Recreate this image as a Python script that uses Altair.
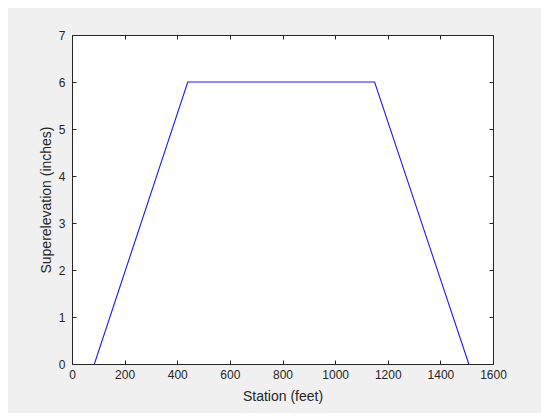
import altair as alt
import pandas as pd

station = [85, 440, 1150, 1508]
superelevation = [0, 6, 6, 0]
x_ticks = [0, 200, 400, 600, 800, 1000, 1200, 1400, 1600]
y_ticks = [0, 1, 2, 3, 4, 5, 6, 7]

df = pd.DataFrame({"station": station, "super": superelevation})

FONT = "Liberation Sans"
INK = "#262626"

xs = alt.Scale(domain=[0, 1600], nice=False, zero=False)
ys = alt.Scale(domain=[0, 7], nice=False, zero=False)

line = alt.Chart(df).mark_line(color="#1a1aff", strokeWidth=1.1, clip=True).encode(
    x=alt.X("station:Q", scale=xs,
            axis=alt.Axis(values=x_ticks, format="d", title="Station (feet)", orient="bottom",
                          domain=False, ticks=True, tickSize=4, offset=-4,
                          tickColor=INK, tickWidth=1,
                          labelPadding=5, labelFontSize=12, labelColor=INK, labelFont=FONT,
                          titleFontSize=14, titleFont=FONT, titleColor=INK, titleFontWeight="normal",
                          titlePadding=9, grid=False, labelFlush=False)),
    y=alt.Y("super:Q", scale=ys,
            axis=alt.Axis(values=y_ticks, format="d", title="Superelevation (inches)", orient="left",
                          domain=False, ticks=True, tickSize=4, offset=-4,
                          tickColor=INK, tickWidth=1,
                          labelPadding=7, labelFontSize=12, labelColor=INK, labelFont=FONT,
                          titleFontSize=14, titleFont=FONT, titleColor=INK, titleFontWeight="normal",
                          titlePadding=5, grid=False, labelFlush=False)),
)

mirror = alt.Chart(df).mark_line(opacity=0).encode(
    x=alt.X("station:Q", scale=xs,
            axis=alt.Axis(values=x_ticks, title=None, orient="top", labels=False,
                          domain=False, ticks=True, tickSize=4, offset=-4,
                          tickColor=INK, tickWidth=1, grid=False)),
    y=alt.Y("super:Q", scale=ys,
            axis=alt.Axis(values=y_ticks, title=None, orient="right", labels=False,
                          domain=False, ticks=True, tickSize=4, offset=-4,
                          tickColor=INK, tickWidth=1, grid=False)),
)

chart = alt.layer(line, mirror).resolve_axis(x="independent", y="independent").properties(
    width=421,
    height=329,
    background="#F0F0F0",
    padding={"left": 64, "top": 27, "right": 48, "bottom": 49},
    autosize=alt.AutoSizeParams(type="none"),
).configure_view(
    fill="white", stroke=INK, strokeWidth=1
)

chart.save("out.html", embed_options={"renderer": "svg", "actions": False})
